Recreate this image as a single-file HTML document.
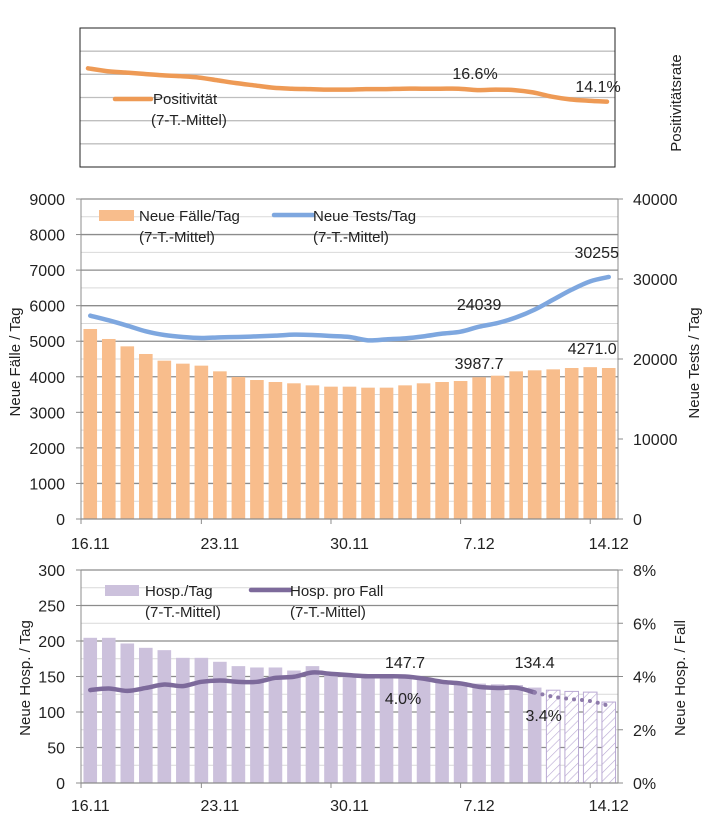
<!DOCTYPE html>
<html><head><meta charset="utf-8">
<style>
body{margin:0;background:#fff;}
svg{display:block;font-family:"Liberation Sans",sans-serif;}
</style></head>
<body>
<svg id="c" width="709" height="833" viewBox="0 0 709 833">
<defs>
<pattern id="hatch" width="6" height="6" patternUnits="userSpaceOnUse" patternTransform="rotate(45)">
<rect width="6" height="6" fill="#fff"/><line x1="0" y1="0" x2="0" y2="6" stroke="#b9a9d3" stroke-width="1.2"/>
</pattern>
</defs>
</svg>
<script>
const dates = ["16.11","17.11","18.11","19.11","20.11","21.11","22.11","23.11","24.11","25.11","26.11","27.11","28.11","29.11","30.11","1.12","2.12","3.12","4.12","5.12","6.12","7.12","8.12","9.12","10.12","11.12","12.12","13.12","14.12"];
const xTickLabels = ["16.11","23.11","30.11","7.12","14.12"];
const positivity = [21.3,20.7,20.4,20.1,19.8,19.6,19.3,18.7,18.1,17.6,17.1,16.9,16.8,16.7,16.7,16.8,16.8,16.9,16.9,16.9,16.9,16.6,16.7,16.6,16.1,15.2,14.6,14.3,14.1];
const cases = [5344,5063,4856,4641,4453,4369,4313,4153,3994,3909,3853,3816,3759,3722,3722,3694,3694,3759,3816,3853,3881,3987.7,4031,4153,4181,4209,4247,4271.0,4247];
const tests = [25417,24833,24167,23458,23000,22750,22625,22708,22750,22833,22917,23042,23000,22875,22750,22333,22458,22583,22833,23167,23417,24039,24500,25200,26170,27420,28670,29710,30255];
const leftTicksMid = [0,1000,2000,3000,4000,5000,6000,7000,8000,9000];
const rightTicksMid = [0,10000,20000,30000,40000];
const hosp = [204.5,204.5,196.5,190.4,187.1,176.3,176.3,170.7,164.6,162.7,162.7,158.4,164.6,155,153,151,150,147.7,146,144,142,140,139,138,134.4,130.7,129,128,114];
const hospPerCase = [3.49,3.55,3.46,3.57,3.70,3.64,3.80,3.85,3.80,3.80,3.95,3.99,4.15,4.10,4.05,4.01,4.01,4.0,3.92,3.80,3.74,3.61,3.57,3.58,3.4,3.24,3.15,3.08,2.90];
const leftTicksBot = [0,50,100,150,200,250,300];
const rightTicksBot = ["0%","2%","4%","6%","8%"];
const solidCount = 25;

const svg = document.getElementById('c');
const NS = 'http://www.w3.org/2000/svg';
const FS = 16, LFS = 15;
function el(tag, attrs, parent){const e=document.createElementNS(NS,tag);for(const k in attrs)e.setAttribute(k,attrs[k]);(parent||svg).appendChild(e);return e;}
function txt(s, attrs){const e=el('text',attrs);e.textContent=s;return e;}

const X0=81, X1=618, N=dates.length, BW=(X1-X0)/N;
const xc = i => X0 + BW*(i+0.5);
function smoothPath(pts){let d='M'+pts[0][0]+','+pts[0][1];for(let i=1;i<pts.length;i++){const p0=pts[i-2]||pts[i-1],p1=pts[i-1],p2=pts[i],p3=pts[i+1]||p2;const c1x=p1[0]+(p2[0]-p0[0])/6,c1y=p1[1]+(p2[1]-p0[1])/6,c2x=p2[0]-(p3[0]-p1[0])/6,c2y=p2[1]-(p3[1]-p1[1])/6;d+=` C${c1x},${c1y} ${c2x},${c2y} ${p2[0]},${p2[1]}`;}return d;}

// ===== Top panel =====
const tTop=28,tBot=167;
const yP = v => tBot - (tBot-tTop)*v/30;
for(let v=5;v<30;v+=5){
  const g=el('line',{x1:80,x2:615,y1:yP(v),y2:yP(v),stroke:'#bfbfbf','stroke-width':1.3});
  
  
}
const tb=el('rect',{x:80,y:tTop,width:535,height:tBot-tTop,fill:'none',stroke:'#222','stroke-width':1});

const pl=el('path',{d:smoothPath(positivity.map((v,i)=>[88+(607-88)*i/(N-1), yP(v)])),fill:'none',stroke:'#ee9a55','stroke-width':4.5,'stroke-linecap':'round'});

let t;
t=txt('16.6%',{x:475,y:79,'font-size':FS,'text-anchor':'middle',fill:'#222'});
t=txt('14.1%',{x:598,y:92,'font-size':FS,'text-anchor':'middle',fill:'#222'});
const lp=el('line',{x1:115,x2:151,y1:99,y2:99,stroke:'#ee9a55','stroke-width':4.5,'stroke-linecap':'round'});

t=txt('Positivität',{x:153,y:104,'font-size':LFS,fill:'#222'});
t=txt('(7-T.-Mittel)',{x:151,y:125,'font-size':LFS,fill:'#222'});
t=txt('Positivitätsrate',{x:0,y:0,'font-size':15,'text-anchor':'middle',fill:'#222',transform:'translate(681,103) rotate(-90)'});

// ===== Middle panel =====
const mTop=199,mBot=519;
const yC = v => mBot-(mBot-mTop)*v/9000;
const yT = v => mBot-(mBot-mTop)*v/40000;
for(let v=500;v<=9000;v+=500){
  const major=v%1000===0;
  const g=el('line',{x1:X0,x2:X1,y1:yC(v),y2:yC(v),stroke:major?'#8c8c8c':'#d9d9d9','stroke-width':major?1.3:1});
  
}
cases.forEach((v,i)=>{
  const r=el('rect',{x:xc(i)-6.8,y:yC(v),width:13.6,height:mBot-yC(v),fill:'#f8bd8c'});
  
});
const tl=el('path',{d:smoothPath(tests.map((v,i)=>[xc(i),yT(v)])),fill:'none',stroke:'#7ea7df','stroke-width':4.5,'stroke-linecap':'round'});

[[X0],[X1]].forEach(([x])=>{const a=el('line',{x1:x,x2:x,y1:mTop,y2:mBot,stroke:'#8c8c8c','stroke-width':1});});
const ax=el('line',{x1:X0,x2:X1,y1:mBot,y2:mBot,stroke:'#8c8c8c','stroke-width':1.3});
leftTicksMid.forEach(v=>{
  t=txt(String(v),{x:65,y:yC(v)+6,'font-size':FS,'text-anchor':'end',fill:'#222'});
  const m=el('line',{x1:X0-5,x2:X0,y1:yC(v),y2:yC(v),stroke:'#8c8c8c'});
});
rightTicksMid.forEach(v=>{
  t=txt(String(v),{x:633,y:yT(v)+6,'font-size':FS,fill:'#222'});
  const m=el('line',{x1:X1,x2:X1+5,y1:yT(v),y2:yT(v),stroke:'#8c8c8c'});
});
xTickLabels.forEach((s,k)=>{const i=k*7;
  t=txt(s,{x:xc(i),y:549,'font-size':FS,'text-anchor':'middle',fill:'#222'});
  const xx=i?X0+BW*(i-0.5):X0;
  const tk=el('line',{x1:xx,x2:xx,y1:mBot,y2:mBot+5,stroke:'#8c8c8c'});
});
t=txt('30255',{x:xc(28)-12,y:258,'font-size':FS,'text-anchor':'middle',fill:'#222'});
t=txt('24039',{x:xc(21),y:310,'font-size':FS,'text-anchor':'middle',fill:'#222'});
t=txt('3987.7',{x:xc(21),y:369,'font-size':FS,'text-anchor':'middle',fill:'#222'});
t=txt('4271.0',{x:xc(27)+2,y:354,'font-size':FS,'text-anchor':'middle',fill:'#222'});
const lc=el('rect',{x:99,y:210,width:35,height:11,fill:'#f8bd8c'});
t=txt('Neue Fälle/Tag',{x:139,y:221,'font-size':LFS,fill:'#222'});
t=txt('(7-T.-Mittel)',{x:139,y:242,'font-size':LFS,fill:'#222'});
const lt=el('line',{x1:274,x2:313,y1:215,y2:215,stroke:'#7ea7df','stroke-width':4.5,'stroke-linecap':'round'});
t=txt('Neue Tests/Tag',{x:313,y:221,'font-size':LFS,fill:'#222'});
t=txt('(7-T.-Mittel)',{x:313,y:242,'font-size':LFS,fill:'#222'});
t=txt('Neue Fälle / Tag',{x:0,y:0,'font-size':15,'text-anchor':'middle',fill:'#222',transform:'translate(20,362) rotate(-90)'});
t=txt('Neue Tests / Tag',{x:0,y:0,'font-size':15,'text-anchor':'middle',fill:'#222',transform:'translate(699,363) rotate(-90)'});

// ===== Bottom panel =====
const bTop=570,bBot=783;
const yH = v => bBot-(bBot-bTop)*v/300;
const yR = v => bBot-(bBot-bTop)*v/8;
for(let v=25;v<=300;v+=25){
  const major=v%50===0;
  const g=el('line',{x1:X0,x2:X1,y1:yH(v),y2:yH(v),stroke:major?'#8c8c8c':'#d9d9d9','stroke-width':major?1.3:1});
  
}
hosp.forEach((v,i)=>{
  const solid=i<solidCount;
  const r=el('rect',{x:xc(i)-6.8,y:yH(v),width:13.6,height:bBot-yH(v),fill:solid?'#ccc1dc':'url(#hatch)',stroke:solid?'none':'#b9a9d3','stroke-width':1});
  
});
const hl=el('path',{d:smoothPath(hospPerCase.slice(0,solidCount).map((v,i)=>[xc(i),yR(v)])),fill:'none',stroke:'#7d6a9b','stroke-width':4.5,'stroke-linecap':'round'});

const hd=el('path',{d:smoothPath(hospPerCase.slice(solidCount-1).map((v,k)=>[xc(k+solidCount-1),yR(v)])),fill:'none',stroke:'#8e7bab','stroke-width':4,'stroke-dasharray':'0 8','stroke-linecap':'round'});

[[X0],[X1]].forEach(([x])=>{const a=el('line',{x1:x,x2:x,y1:bTop,y2:bBot,stroke:'#8c8c8c','stroke-width':1});});
const bx=el('line',{x1:X0,x2:X1,y1:bBot,y2:bBot,stroke:'#8c8c8c','stroke-width':1.3});
leftTicksBot.forEach(v=>{
  t=txt(String(v),{x:65,y:yH(v)+6,'font-size':FS,'text-anchor':'end',fill:'#222'});
  const m=el('line',{x1:X0-5,x2:X0,y1:yH(v),y2:yH(v),stroke:'#8c8c8c'});
});
rightTicksBot.forEach((s,k)=>{
  t=txt(s,{x:633,y:yR(k*2)+6,'font-size':FS,fill:'#222'});
  const m=el('line',{x1:X1,x2:X1+5,y1:yR(k*2),y2:yR(k*2),stroke:'#8c8c8c'});
});
xTickLabels.forEach((s,k)=>{const i=k*7;
  t=txt(s,{x:xc(i),y:811,'font-size':FS,'text-anchor':'middle',fill:'#222'});
  const xx=i?X0+BW*(i-0.5):X0;
  const tk=el('line',{x1:xx,x2:xx,y1:bBot,y2:bBot+5,stroke:'#8c8c8c'});
});
t=txt('147.7',{x:xc(17),y:668,'font-size':FS,'text-anchor':'middle',fill:'#222'});
t=txt('4.0%',{x:xc(17)-2,y:704,'font-size':FS,'text-anchor':'middle',fill:'#222'});
t=txt('134.4',{x:xc(24),y:668,'font-size':FS,'text-anchor':'middle',fill:'#222'});
t=txt('3.4%',{x:xc(24)+9,y:721,'font-size':FS,'text-anchor':'middle',fill:'#222'});
const lh=el('rect',{x:105,y:585,width:34,height:11,fill:'#ccc1dc'});
t=txt('Hosp./Tag',{x:145,y:596,'font-size':LFS,fill:'#222'});
t=txt('(7-T.-Mittel)',{x:145,y:617,'font-size':LFS,fill:'#222'});
const lr=el('line',{x1:251,x2:290,y1:590,y2:590,stroke:'#7d6a9b','stroke-width':4.5,'stroke-linecap':'round'});
t=txt('Hosp. pro Fall',{x:290,y:596,'font-size':LFS,fill:'#222'});
t=txt('(7-T.-Mittel)',{x:290,y:617,'font-size':LFS,fill:'#222'});
t=txt('Neue Hosp. / Tag',{x:0,y:0,'font-size':15,'text-anchor':'middle',fill:'#222',transform:'translate(30,678) rotate(-90)'});
t=txt('Neue Hosp. / Fall',{x:0,y:0,'font-size':15,'text-anchor':'middle',fill:'#222',transform:'translate(685,678) rotate(-90)'});
</script>
</body></html>
